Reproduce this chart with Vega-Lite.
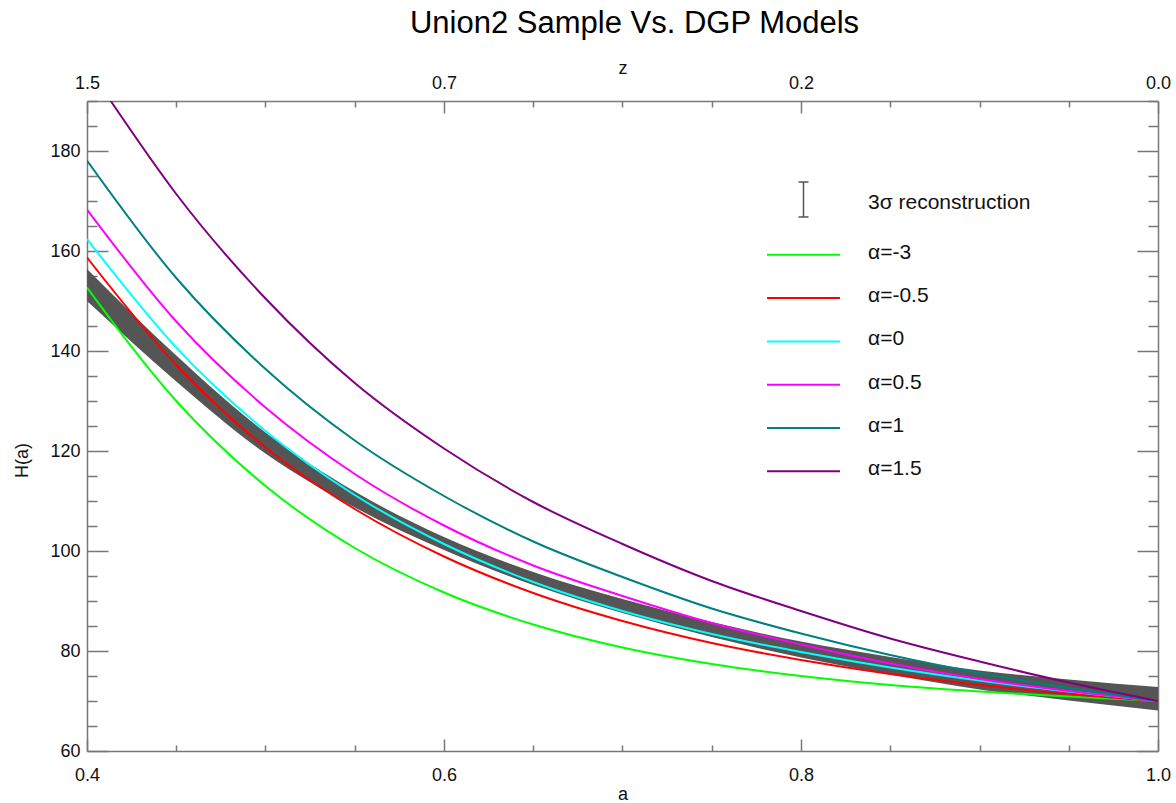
{
  "$schema": "https://vega.github.io/schema/vega-lite/v6.json",
  "autosize": "none",
  "width": 1071,
  "height": 650,
  "padding": {"left": 87, "top": 101, "right": 18, "bottom": 52},
  "background": "white",
  "title": {
    "text": "Union2 Sample Vs. DGP Models",
    "font": "Liberation Sans",
    "fontSize": 31,
    "fontWeight": "normal",
    "color": "#000000",
    "anchor": "middle",
    "dx": 12,
    "offset": 19
  },
  "config": {
    "view": {"stroke": null},
    "axis": {
      "labelFont": "Liberation Sans",
      "labelFontSize": 18,
      "labelColor": "#111111",
      "titleFont": "Liberation Sans",
      "titleFontSize": 18,
      "titleFontWeight": "normal",
      "titleColor": "#111111",
      "domainColor": "#777777",
      "domainWidth": 1.5,
      "tickColor": "#777777",
      "tickWidth": 1.5,
      "grid": false,
      "labelOverlap": false,
      "labelFlush": false,
      "labelBound": false
    }
  },
  "datasets": {
    "band": [
      {"a": 0.40, "lo": 150.0, "hi": 156.4},
      {"a": 0.45, "lo": 133.9, "hi": 139.1},
      {"a": 0.50, "lo": 119.5, "hi": 123.7},
      {"a": 0.55, "lo": 108.7, "hi": 111.9},
      {"a": 0.60, "lo": 100.2, "hi": 102.8},
      {"a": 0.65, "lo": 93.2, "hi": 95.8},
      {"a": 0.70, "lo": 87.6, "hi": 90.4},
      {"a": 0.75, "lo": 82.8, "hi": 85.8},
      {"a": 0.80, "lo": 78.7, "hi": 81.9},
      {"a": 0.85, "lo": 75.3, "hi": 78.8},
      {"a": 0.90, "lo": 72.3, "hi": 76.1},
      {"a": 0.95, "lo": 70.1, "hi": 74.3},
      {"a": 1.00, "lo": 68.1, "hi": 72.8}
    ],
    "curves": [
      {"model": "α=-3", "a": 0.40, "H": 152.7},
      {"model": "α=-3", "a": 0.45, "H": 130.0},
      {"model": "α=-3", "a": 0.50, "H": 113.0},
      {"model": "α=-3", "a": 0.55, "H": 100.6},
      {"model": "α=-3", "a": 0.60, "H": 91.7},
      {"model": "α=-3", "a": 0.65, "H": 85.3},
      {"model": "α=-3", "a": 0.70, "H": 80.7},
      {"model": "α=-3", "a": 0.75, "H": 77.4},
      {"model": "α=-3", "a": 0.80, "H": 75.0},
      {"model": "α=-3", "a": 0.85, "H": 73.2},
      {"model": "α=-3", "a": 0.90, "H": 71.9},
      {"model": "α=-3", "a": 0.95, "H": 70.9},
      {"model": "α=-3", "a": 1.00, "H": 70.0},

      {"model": "α=-0.5", "a": 0.40, "H": 158.7},
      {"model": "α=-0.5", "a": 0.45, "H": 137.2},
      {"model": "α=-0.5", "a": 0.50, "H": 120.7},
      {"model": "α=-0.5", "a": 0.55, "H": 108.4},
      {"model": "α=-0.5", "a": 0.60, "H": 98.9},
      {"model": "α=-0.5", "a": 0.65, "H": 91.6},
      {"model": "α=-0.5", "a": 0.70, "H": 86.0},
      {"model": "α=-0.5", "a": 0.75, "H": 81.6},
      {"model": "α=-0.5", "a": 0.80, "H": 78.2},
      {"model": "α=-0.5", "a": 0.85, "H": 75.4},
      {"model": "α=-0.5", "a": 0.90, "H": 73.2},
      {"model": "α=-0.5", "a": 0.95, "H": 71.4},
      {"model": "α=-0.5", "a": 1.00, "H": 70.0},

      {"model": "α=0", "a": 0.40, "H": 162.4},
      {"model": "α=0", "a": 0.45, "H": 140.7},
      {"model": "α=0", "a": 0.50, "H": 124.0},
      {"model": "α=0", "a": 0.55, "H": 111.2},
      {"model": "α=0", "a": 0.60, "H": 101.4},
      {"model": "α=0", "a": 0.65, "H": 93.8},
      {"model": "α=0", "a": 0.70, "H": 88.0},
      {"model": "α=0", "a": 0.75, "H": 83.4},
      {"model": "α=0", "a": 0.80, "H": 79.8},
      {"model": "α=0", "a": 0.85, "H": 76.7},
      {"model": "α=0", "a": 0.90, "H": 74.1},
      {"model": "α=0", "a": 0.95, "H": 71.9},
      {"model": "α=0", "a": 1.00, "H": 70.0},

      {"model": "α=0.5", "a": 0.40, "H": 168.3},
      {"model": "α=0.5", "a": 0.45, "H": 145.9},
      {"model": "α=0.5", "a": 0.50, "H": 128.7},
      {"model": "α=0.5", "a": 0.55, "H": 115.4},
      {"model": "α=0.5", "a": 0.60, "H": 105.1},
      {"model": "α=0.5", "a": 0.65, "H": 97.1},
      {"model": "α=0.5", "a": 0.70, "H": 91.0},
      {"model": "α=0.5", "a": 0.75, "H": 85.6},
      {"model": "α=0.5", "a": 0.80, "H": 81.3},
      {"model": "α=0.5", "a": 0.85, "H": 77.5},
      {"model": "α=0.5", "a": 0.90, "H": 74.4},
      {"model": "α=0.5", "a": 0.95, "H": 72.0},
      {"model": "α=0.5", "a": 1.00, "H": 70.0},

      {"model": "α=1", "a": 0.40, "H": 178.1},
      {"model": "α=1", "a": 0.45, "H": 154.6},
      {"model": "α=1", "a": 0.50, "H": 136.4},
      {"model": "α=1", "a": 0.55, "H": 122.1},
      {"model": "α=1", "a": 0.60, "H": 111.0},
      {"model": "α=1", "a": 0.65, "H": 101.9},
      {"model": "α=1", "a": 0.70, "H": 94.8},
      {"model": "α=1", "a": 0.75, "H": 88.5},
      {"model": "α=1", "a": 0.80, "H": 83.5},
      {"model": "α=1", "a": 0.85, "H": 79.2},
      {"model": "α=1", "a": 0.90, "H": 75.6},
      {"model": "α=1", "a": 0.95, "H": 72.6},
      {"model": "α=1", "a": 1.00, "H": 70.0},

      {"model": "α=1.5", "a": 0.4133, "H": 190.0},
      {"model": "α=1.5", "a": 0.45, "H": 171.4},
      {"model": "α=1.5", "a": 0.50, "H": 150.5},
      {"model": "α=1.5", "a": 0.55, "H": 133.6},
      {"model": "α=1.5", "a": 0.60, "H": 120.5},
      {"model": "α=1.5", "a": 0.65, "H": 109.8},
      {"model": "α=1.5", "a": 0.70, "H": 101.4},
      {"model": "α=1.5", "a": 0.75, "H": 94.0},
      {"model": "α=1.5", "a": 0.80, "H": 88.0},
      {"model": "α=1.5", "a": 0.85, "H": 82.5},
      {"model": "α=1.5", "a": 0.90, "H": 77.9},
      {"model": "α=1.5", "a": 0.95, "H": 73.7},
      {"model": "α=1.5", "a": 1.00, "H": 70.0}
    ]
  },
  "layer": [
    {
      "data": {"name": "band"},
      "mark": {"type": "area", "interpolate": "monotone", "fill": "#555555", "clip": true},
      "encoding": {
        "x": {
          "field": "a", "type": "quantitative",
          "scale": {"domain": [0.4, 1.0], "nice": false, "zero": false},
          "axis": {
            "orient": "bottom",
            "title": "a",
            "values": [0.4, 0.45, 0.5, 0.55, 0.6, 0.65, 0.7, 0.75, 0.8, 0.85, 0.9, 0.95, 1.0],
            "labelExpr": "round(datum.value * 100) % 20 == 0 ? format(datum.value, '.1f') : ''",
            "tickSize": {"condition": {"test": "round(datum.value * 100) % 20 == 0", "value": -12}, "value": -6},
            "labelPadding": 27,
            "titleY": 48,
            "titleBaseline": "alphabetic"
          }
        },
        "y": {
          "field": "lo", "type": "quantitative",
          "scale": {"domain": [60, 190], "nice": false, "zero": false},
          "axis": {
            "orient": "left",
            "title": "H(a)",
            "values": [60, 65, 70, 75, 80, 85, 90, 95, 100, 105, 110, 115, 120, 125, 130, 135, 140, 145, 150, 155, 160, 165, 170, 175, 180, 185, 190],
            "labelExpr": "datum.value % 20 == 0 && datum.value < 190 ? datum.label : ''",
            "tickSize": {"condition": {"test": "datum.value % 20 == 0", "value": -21}, "value": -10},
            "labelPadding": 28,
            "titleX": -65,
            "titleY": 359,
            "titleBaseline": "middle"
          }
        },
        "y2": {"field": "hi"}
      }
    },
    {
      "data": {"name": "curves"},
      "mark": {"type": "line", "interpolate": "monotone", "strokeWidth": 2, "clip": true},
      "encoding": {
        "x": {
          "field": "a", "type": "quantitative",
          "scale": {"domain": [0.4, 1.0], "nice": false, "zero": false},
          "axis": {
            "orient": "top",
            "title": "z",
            "values": [0.4, 0.45, 0.5, 0.55, 0.6, 0.65, 0.7, 0.75, 0.8, 0.85, 0.9, 0.95, 1.0],
            "labelExpr": "round(datum.value * 100) == 40 ? '1.5' : round(datum.value * 100) == 60 ? '0.7' : round(datum.value * 100) == 80 ? '0.2' : round(datum.value * 100) == 100 ? '0.0' : ''",
            "tickSize": {"condition": {"test": "round(datum.value * 100) % 20 == 0", "value": -12}, "value": -6},
            "labelPadding": 21,
            "titleY": -28,
            "titleBaseline": "alphabetic"
          }
        },
        "y": {
          "field": "H", "type": "quantitative",
          "scale": {"domain": [60, 190], "nice": false, "zero": false},
          "axis": {
            "orient": "right",
            "title": null,
            "labels": false,
            "values": [60, 65, 70, 75, 80, 85, 90, 95, 100, 105, 110, 115, 120, 125, 130, 135, 140, 145, 150, 155, 160, 165, 170, 175, 180, 185, 190],
            "tickSize": {"condition": {"test": "datum.value % 20 == 0", "value": -21}, "value": -10}
          }
        },
        "color": {
          "field": "model", "type": "nominal",
          "scale": {
            "domain": ["3σ reconstruction", "α=-3", "α=-0.5", "α=0", "α=0.5", "α=1", "α=1.5"],
            "range": ["#555555", "#00ff00", "#ff0000", "#00ffff", "#ff00ff", "#008080", "#800080"]
          },
          "legend": {
            "title": null,
            "orient": "none",
            "legendX": 706,
            "legendY": 88,
            "padding": 0,
            "symbolSize": 400,
            "symbolStrokeWidth": 2,
            "labelFont": "Liberation Sans",
            "labelFontSize": 21,
            "labelColor": "#111111",
            "labelOffset": 54,
            "labelLimit": 400,
            "rowPadding": 21.3,
            "encode": {
              "symbols": {
                "update": {
                  "shape": {"signal": "datum.value === '3σ reconstruction' ? 'M0,-1.75L0,1.75M-0.5,-1.75L0.5,-1.75M-0.5,1.75L0.5,1.75' : 'M-3.65,0L3.65,0'"},
                  "fill": {"value": "transparent"},
                  "stroke": {"signal": "scale('color', datum.value)"},
                  "strokeWidth": {"signal": "datum.value === '3σ reconstruction' ? 1.5 : 2"}
                }
              },
              "labels": {
                "update": {
                  "dy": {"signal": "datum.value === '3σ reconstruction' ? 3 : -2"}
                }
              }
            }
          }
        }
      }
    }
  ],
  "resolve": {"axis": {"x": "independent", "y": "independent"}}
}
